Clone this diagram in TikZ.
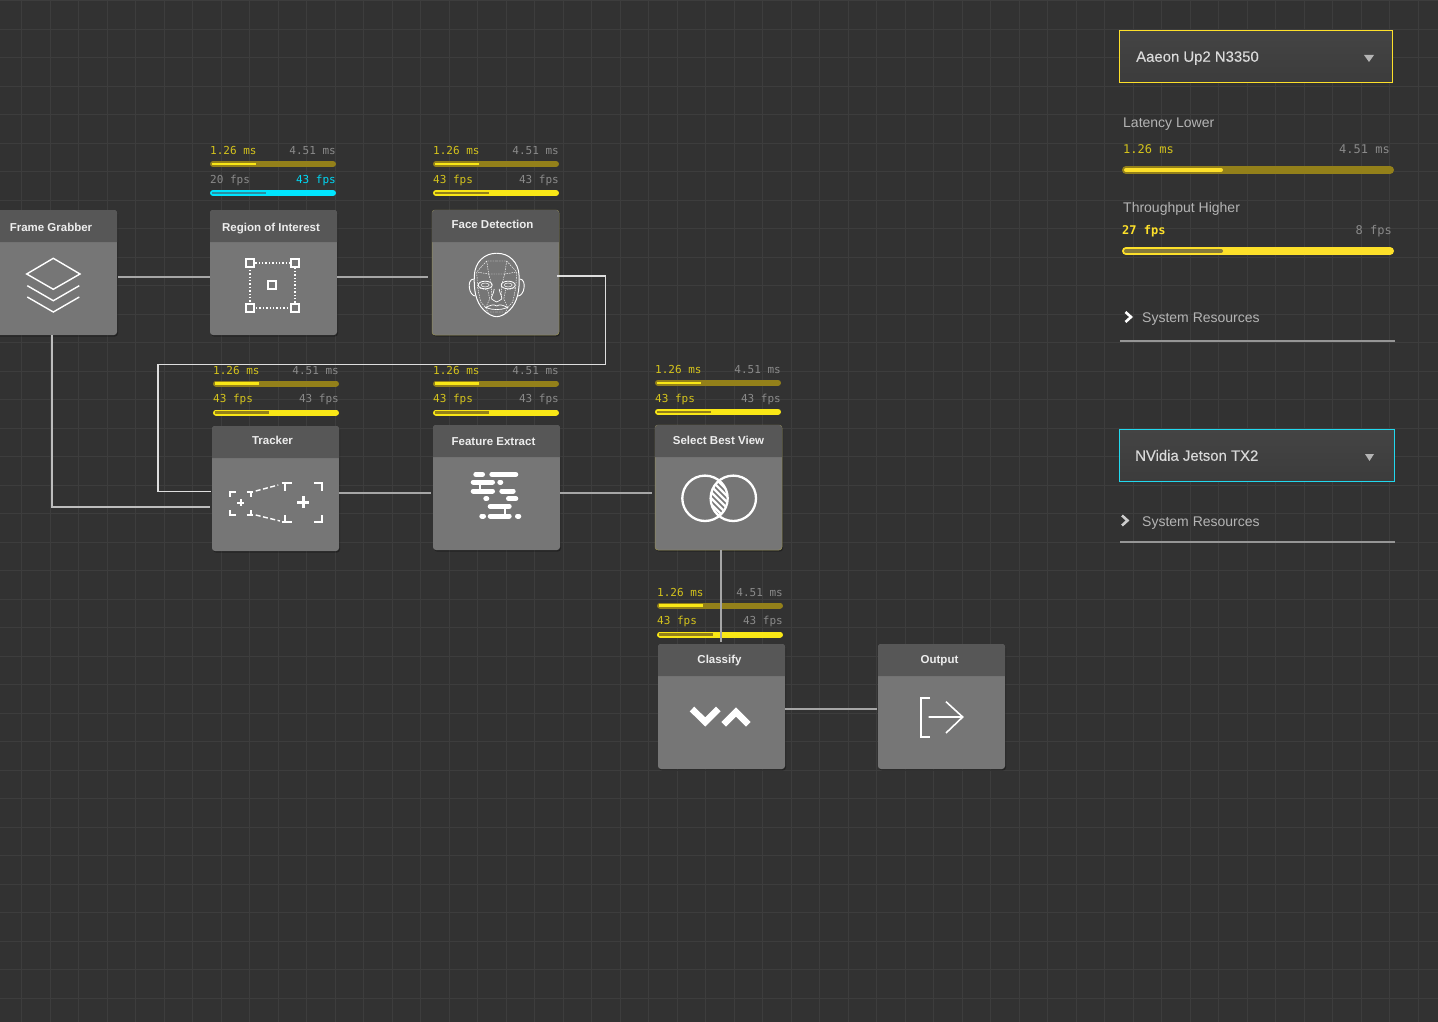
\documentclass[tikz,border=0pt]{standalone}
\usepackage{fontspec}
\setmainfont{Liberation Sans}
\setmonofont{DejaVu Sans Mono}
\newfontfamily\mediumfont[FakeBold=0.25]{Liberation Sans}
\usetikzlibrary{positioning,shadows}
\definecolor{pagebg}{HTML}{323232}
\definecolor{gridmajor}{HTML}{3D3D3D}
\definecolor{gridminor}{HTML}{363636}
\definecolor{cardbody}{HTML}{767676}
\definecolor{cardtop}{HTML}{575757}
\definecolor{wireline}{HTML}{A6A6A6}
\definecolor{wirebright}{HTML}{DEDEDE}
\definecolor{yellowtext}{HTML}{D4C31C}
\definecolor{greytext}{HTML}{8A8A8A}
\definecolor{cyantext}{HTML}{00D8F5}
\definecolor{barolive}{HTML}{93801A}
\definecolor{baryellow}{HTML}{F9E716}
\definecolor{barcyan}{HTML}{00E5FF}
\definecolor{barteal}{HTML}{2A8EA2}
\definecolor{sideyellow}{HTML}{FDE02A}
\definecolor{sideolive}{HTML}{857A3C}
\definecolor{sidetext}{HTML}{B4B4B4}
\definecolor{boxedge}{HTML}{22D8EE}
\definecolor{droptop}{HTML}{444444}
\definecolor{dropbottom}{HTML}{3C3C3C}
\tikzset{
  cardbox/.style={fill=cardbody,rounded corners=3pt,inner sep=0pt,outer sep=0pt,minimum width=127pt,minimum height=125pt,drop shadow={shadow xshift=1pt,shadow yshift=-1.5pt,opacity=.3,fill=black}},
  headtext/.style={text=white!93!black,font=\fontsize{11.5}{14}\selectfont\bfseries,inner sep=0pt,text height=9pt,text depth=1pt},
  monotext/.style={font=\fontsize{11}{13}\ttfamily,inner sep=0pt,text height=11pt,text depth=1pt},
  sidemono/.style={font=\fontsize{12}{14}\ttfamily,inner sep=0pt,text height=11pt,text depth=1pt},
  sidelabel/.style={text=sidetext,font=\fontsize{14}{16}\selectfont,inner sep=0pt,anchor=west,text height=12pt,text depth=1pt},
  dropbox/.style={inner sep=0pt,outer sep=0pt,anchor=north west,line width=1.1pt,top color=droptop,bottom color=dropbottom,minimum height=52pt},
  droptext/.style={text=white!85!black,font=\fontsize{14.9}{17}\mediumfont,inner sep=0pt,text height=11.5pt,text depth=1pt},
  wire/.style={draw=wireline,line width=1.3pt},
  wirelit/.style={draw=wirebright,line width=1.2pt},
  icon/.style={draw=white,line width=1.4pt},
  iconthin/.style={draw=white,line width=.45pt,dash pattern=on 1.5pt off 1pt},
}
\newcommand{\cardhead}[4]{
  \fill[cardtop] ([yshift=-32pt]#1.north west) [rounded corners=3pt] -- (#1.north west) -- (#1.north east) [sharp corners] -- ([yshift=-32pt]#1.north east) -- cycle;
  \node[headtext] (#1head) at ([xshift=#3pt,yshift=-#4pt]#1.north) {#2};
}
\newcommand{\metrics}[8]{
  \node[monotext,text=yellowtext,anchor=west] (#1msl) at (#2,#3) {1.26 ms};
  \node[monotext,text=greytext,anchor=east] (#1msr) at (#2+126,#3) {4.51 ms};
  \node[monotext,text=#5,anchor=west] (#1fpsl) at (#2,#3+28.3) {#4 fps};
  \node[monotext,text=#6,anchor=east] (#1fpsr) at (#2+126,#3+28.3) {43 fps};
  \draw[barolive,line width=6pt,line cap=round] (#2+3,#3+14) -- (#2+123,#3+14);
  \draw[baryellow,line width=2.4pt] (#2+2,#3+14) -- (#2+46,#3+14);
  \draw[#7,line width=6pt,line cap=round] (#2+3,#3+43) -- (#2+123,#3+43);
  \draw[#8,line width=2.4pt] (#2+2,#3+43) -- (#2+56,#3+43);
}
\begin{document}
\begin{tikzpicture}[x=1pt,y=-1pt]
  \useasboundingbox (0,0) rectangle (1438,1022);
  \fill[pagebg] (0,0) rectangle (1438,1022);
  \draw[gridminor,line width=.4pt,step=5.7pt] (0,0) grid (1438,-1022);
  \foreach \i in {0,...,50} \draw[gridmajor,line width=.9pt] (21.7+28.5*\i-28.5,0) -- (21.7+28.5*\i-28.5,1022);
  \foreach \i in {0,...,36} \draw[gridmajor,line width=.9pt] (0,0.8+28.5*\i) -- (1438,0.8+28.5*\i);

  \node[cardbox,anchor=north west] (grabber) at (-10,210) {};
  \node[cardbox,right=93pt of grabber] (roi) {};
  \node[cardbox,right=95pt of roi,draw=yellowtext!35!cardbody,line width=.5pt] (face) {};
  \node[cardbox,below=91pt of roi,xshift=2pt] (tracker) {};
  \node[cardbox,right=94pt of tracker,yshift=1pt] (feature) {};
  \node[cardbox,right=95pt of feature,draw=yellowtext!35!cardbody,line width=.5pt] (select) {};
  \node[cardbox,below=94pt of select,xshift=3pt] (classify) {};
  \node[cardbox,right=93pt of classify] (output) {};

  \cardhead{grabber}{Frame Grabber}{-2.5}{17}
  \cardhead{roi}{Region of Interest}{-2.5}{17}
  \cardhead{face}{Face Detection}{-3}{14}
  \cardhead{tracker}{Tracker}{-3}{14}
  \cardhead{feature}{Feature Extract}{-3}{16}
  \cardhead{select}{Select Best View}{0}{15}
  \cardhead{classify}{Classify}{-2}{15}
  \cardhead{output}{Output}{-2}{15}

  \metrics{roi}{210}{150}{20}{greytext}{cyantext}{barcyan}{barteal}
  \metrics{face}{433}{150}{43}{yellowtext}{greytext}{baryellow}{barolive}
  \metrics{tracker}{213}{369.5}{43}{yellowtext}{greytext}{baryellow}{barolive}
  \metrics{feature}{433}{369.5}{43}{yellowtext}{greytext}{baryellow}{barolive}
  \metrics{select}{655}{368.7}{43}{yellowtext}{greytext}{baryellow}{barolive}
  \metrics{classify}{657}{591.5}{43}{yellowtext}{greytext}{baryellow}{barolive}

  \coordinate (bendne) at (605.5,276);
  \coordinate (bendse) at (605.5,364.5);
  \coordinate (bendnw) at (158,364.5);
  \coordinate (bendsw) at (158,491.5);
  \coordinate (bendfg) at (52,507);
  \draw[wire] ([yshift=-4.5pt,xshift=1pt]grabber.east) -- ([yshift=-4.5pt]roi.west);
  \draw[wire,shorten >=4pt] ([yshift=-4.5pt]roi.east) -- ([yshift=-4.5pt]face.west);
  \draw[wirelit] ([yshift=-3.5pt,xshift=-2pt]face.east) -- (bendne) -- (bendse) -- (bendnw) -- (bendsw) -- ([yshift=-3pt,xshift=-1pt]tracker.west);
  \draw[wire,draw=wirebright!85!black] ([xshift=-1.5pt]grabber.south) -- (bendfg) -- ([yshift=-18.5pt,xshift=-2pt]tracker.west);
  \draw[wire,shorten >=2pt] ([yshift=-4.5pt]tracker.east) -- ([yshift=-5.5pt]feature.west);
  \draw[wire,shorten >=3pt] ([yshift=-5.5pt]feature.east) -- ([yshift=-5.5pt]select.west);
  \draw[wire,shorten >=2pt] ([xshift=2.5pt]select.south) -- ([xshift=-.5pt]classify.north);
  \draw[wire,shorten >=1pt] ([yshift=-2.5pt]classify.east) -- ([yshift=-2.5pt]output.west);

  \draw[icon] (26.7,274) -- (53.3,258.3) -- (80,274) -- (53.3,289.3) -- cycle;
  \draw[icon] (27.3,285.7) -- (53.3,300.7) -- (79.3,285.7);
  \draw[icon] (27.3,297) -- (53.3,312) -- (79.3,297);

  \draw[icon,dotted] (250,263) rectangle (295,308);
  \foreach \cx/\cy in {250/263,295/263,250/308,295/308,272/285}
    \draw[icon,line width=1.9pt,fill=cardbody] (\cx-3.8,\cy-3.8) rectangle (\cx+3.8,\cy+3.8);

  \foreach \s in {-1,1} {
    \begin{scope}[shift={(496.7,0)},xscale=\s]
      \draw[icon,line width=1pt] (0,253.3) .. controls (12,253) and (22,262) .. (22.4,276) .. controls (23,290) and (21,302) .. (13,310) .. controls (9,314) and (4,316.7) .. (0,316.7);
      \draw[icon,line width=.9pt] (23,279) .. controls (27,279) and (28,284) .. (27.3,288) .. controls (27,292) and (24,296) .. (21.5,296);
      \draw[icon,line width=.8pt] (11.5,285) ellipse (7 and 3.8);
      \draw[icon,line width=.5pt] (11.5,285) ellipse (4 and 2);
      \draw[icon,line width=.7pt] (2.5,289) .. controls (3,294) and (6,297) .. (5,299) .. controls (4,301) and (2,300) .. (0,302);
      \draw[icon,line width=.7pt] (0,306) .. controls (3,304) and (6,305) .. (11,307.5) .. controls (6,309) and (3,310) .. (0,309.5);
      \draw[iconthin] (0,261) -- (10,261) -- (20,272) -- (19,288) -- (16,302) -- (11,307.5) -- (7,299) -- (9,290) -- (19,288);
      \draw[iconthin] (10,261) -- (8,274) -- (20,272) (8,274) -- (0,274) (8,274) -- (5,285) -- (5,299) (11,307.5) -- (8,314) (0,312) -- (7,312);
    \end{scope}
  }

  \begin{scope}[line width=1.9pt,draw=white]
    \draw[white] (230,496.7) -- (230,491.7) -- (235.7,491.7) (230,510) -- (230,515) -- (235.7,515);
    \draw[white] (246.7,491.7) -- (253.3,491.7) (251,491.7) -- (251,497) (246.7,515) -- (253.3,515) (251,515) -- (251,510);
    \draw[white] (281.7,483.3) -- (292.3,483.3) (285,483.3) -- (285,491) (281.7,522) -- (292.3,522) (285,522) -- (285,515);
    \draw[white] (314,483.3) -- (321.7,483.3) -- (321.7,491) (314,522) -- (321.7,522) -- (321.7,515);
    \draw[white,line width=1.4pt,dash pattern=on 5pt off 2.5pt] (255.7,491) -- (278.3,485);
    \draw[white,line width=1.4pt,dash pattern=on 5pt off 2.5pt] (255.7,515) -- (280,521);
    \draw[white,line width=1.9pt] (237.2,502.7) -- (244.2,502.7) (240.7,499.2) -- (240.7,506.2);
    \draw[white,line width=2.5pt] (297.3,502.3) -- (309.3,502.3) (303.3,496.3) -- (303.3,508.3);
  \end{scope}

  \foreach \xa/\xb/\yy in {473.3/485/474.3,489.3/518.3/474.3,470.7/495/482,497.3/503.3/482,470.7/495/491,499.3/515.7/491,483.3/489.3/498.7,506/518.3/498.7,487.7/511.7/506.3,479.3/486/516,487.7/511.7/516,515/521.3/516}
    \draw[white,line width=5pt,line cap=round] (\xa+2.5,\yy) -- (\xb-2.5,\yy);
  \draw[white,line width=2.4pt] (480,482) -- (480,491) (505,506.3) -- (505,516);

  \begin{scope}
    \clip (705,498.3) circle (22.7);
    \clip (733.3,498.3) circle (22.7);
    \fill[white] (700,470) rectangle (740,530);
    \foreach \i in {0,...,8} \draw[cardbody,line width=1.6pt] (700,466+6*\i) -- (740,506+6*\i);
  \end{scope}
  \draw[icon,line width=2.3pt] (705,498.3) circle (22.7);
  \draw[icon,line width=2.3pt] (733.3,498.3) circle (22.7);

  \draw[white,line width=6.5pt] (692,709) -- (705.3,722) -- (718.3,709);
  \draw[white,line width=6.5pt] (723.7,724.3) -- (736,712) -- (748.3,724.3);

  \draw[icon,line width=2pt] (930,697.7) -- (920.7,697.7) -- (920.7,737) -- (930,737);
  \draw[icon,line width=1.6pt] (928.7,717) -- (962.7,717) (946,701.7) -- (962.7,717) -- (946,733);

  \node[dropbox,draw=sideyellow,minimum width=273pt] (aaeon) at (1119.5,30.5) {};
  \node[droptext,anchor=west] (aaeonname) at ([xshift=16.5pt]aaeon.west) {Aaeon Up2 N3350};
  \fill[sidetext] (1364,55) -- (1374,55) -- (1369,62) -- cycle;
  \node[sidelabel] (latency) at (1123,122) {Latency Lower};
  \node[sidemono,text=yellowtext,anchor=west] (latmin) at (1123,148.3) {1.26 ms};
  \node[sidemono,text=greytext,anchor=east] (latmax) at (1390,148.3) {4.51 ms};
  \draw[barolive,line width=8pt,line cap=round] (1126,170) -- (1390,170);
  \draw[sideyellow,line width=4pt,line cap=round] (1126,170) -- (1221,170);
  \node[sidelabel] (through) at (1123,207) {Throughput Higher};
  \node[sidemono,text=sideyellow,font=\fontsize{12}{14}\ttfamily\bfseries,anchor=west] (thrmin) at (1122,229.3) {27 fps};
  \node[sidemono,text=greytext,anchor=east] (thrmax) at (1392,229.3) {8 fps};
  \draw[sideyellow,line width=8pt,line cap=round] (1126,251) -- (1390,251);
  \draw[sideolive,line width=4pt,line cap=round] (1126,251) -- (1221,251);
  \draw[white,line width=2.6pt] (1125.5,312) -- (1131,317) -- (1125.5,322);
  \node[sidelabel] (resone) at (1142,317) {System Resources};
  \draw[greytext!90!white,line width=1.6pt] (1120,341) -- (1395,341);

  \node[dropbox,draw=boxedge,minimum width=275pt] (jetson) at (1119.5,429.5) {};
  \node[droptext,anchor=west] (jetsonname) at ([xshift=15.5pt]jetson.west) {NVidia Jetson TX2};
  \fill[sidetext] (1365,454) -- (1374,454) -- (1369.5,461) -- cycle;
  \draw[white!80!black,line width=2.6pt] (1122,515.5) -- (1127.5,520.5) -- (1122,525.5);
  \node[sidelabel] (restwo) at (1142,521) {System Resources};
  \draw[greytext!90!white,line width=1.6pt] (1120,542) -- (1395,542);
\end{tikzpicture}
\end{document}
